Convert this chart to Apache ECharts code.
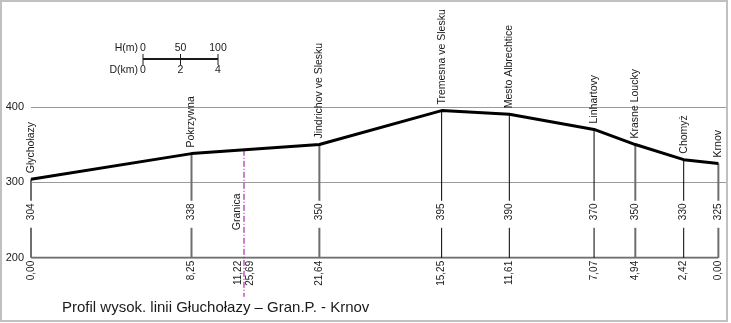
<!DOCTYPE html>
<html>
<head>
<meta charset="utf-8">
<script src="https://cdn.jsdelivr.net/npm/echarts@6/dist/echarts.min.js"></script>
<style>
html,body{margin:0;padding:0;background:#fff;}
#chart{width:731px;height:323px;}
</style>
</head>
<body>
<div id="chart"></div>
<script>
// ---- data ----
const stations = ['Głychołazy', 'Pokrzywna', 'Jindrichov ve Slesku', 'Tremesna ve Slesku', 'Mesto Albrechtice', 'Linhartovy', 'Krasne Loucky', 'Chomyż', 'Krnov'];
const elevations = [304, 338, 350, 395, 390, 370, 350, 330, 325];
const kmLabels = ['0,00', '8,25', '21,64', '15,25', '11,61', '7,07', '4,94', '2,42', '0,00'];
// position along the drawn line (km, measured with the drawing's scale bar)
const chainage = [0, 8.56, 15.38, 21.90, 25.51, 30.03, 32.23, 34.81, 36.66];

const borderName = 'Granica';
const borderChainage = 11.36;
const borderElev = 343;
const borderKmLabels = ['11,22', '25,69'];

const yTicks = [200, 300, 400];
const scaleH = [0, 50, 100];
const scaleD = [0, 2, 4];
const titleText = 'Profil wysok. linii Głuchołazy – Gran.P. - Krnov';

// ---- styles ----
const FONT = '"Liberation Sans", Arial, sans-serif';
const TXT = '#1a1a1a';
const thickStations = new Set([0, 1, 2, 6, 8]);

const chart = echarts.init(document.getElementById('chart'), null, {renderer: 'canvas'});

function vtext(x, y, text, align, size, color) {
  return {
    type: 'text', x: x, y: y, rotation: Math.PI / 2,
    style: {text: text, align: align, verticalAlign: 'middle', fill: color || TXT,
            font: size + 'px ' + FONT}
  };
}

function renderStation(params, api) {
  const i = api.value(2);
  const top = api.coord([api.value(0), api.value(1)]);
  const base = api.coord([api.value(0), yTicks[0]]);
  const x = top[0];
  const thick = thickStations.has(i);
  const ls = {stroke: thick ? '#6e6e6e' : '#000', lineWidth: thick ? 2 : 1};
  return {
    type: 'group',
    children: [
      {type: 'line', shape: {x1: x, y1: top[1], x2: x, y2: base[1] - 57}, style: ls},
      {type: 'line', shape: {x1: x, y1: base[1] - 30, x2: x, y2: base[1]}, style: ls},
      vtext(x, top[1] - 6, stations[i], 'left', 10.5),
      vtext(x, base[1] - 46, String(elevations[i]), 'center', 10),
      vtext(x, base[1] + 3, kmLabels[i], 'right', 10)
    ]
  };
}

function renderBorder(params, api) {
  const top = api.coord([api.value(0), api.value(1)]);
  const base = api.coord([api.value(0), yTicks[0]]);
  const x = top[0];
  return {
    type: 'group',
    children: [
      {type: 'line', shape: {x1: x, y1: top[1], x2: x, y2: base[1] + 39},
       style: {stroke: '#990099', lineWidth: 1, lineDash: [6, 2, 1, 2]}},
      vtext(x - 7, base[1] - 46, borderName, 'center', 10.5),
      vtext(x - 6, base[1] + 3, borderKmLabels[0], 'right', 10),
      vtext(x + 6, base[1] + 3, borderKmLabels[1], 'right', 10)
    ]
  };
}

function renderScale(params, api) {
  const sz = api.size([scaleD[scaleD.length - 1] - scaleD[0], scaleH[scaleH.length - 1] - scaleH[0]], [0, 300]);
  const w = sz[0];
  const x0 = 143, y0 = 59;
  const ch = [
    {type: 'line', shape: {x1: x0, y1: y0, x2: x0 + w, y2: y0}, style: {stroke: '#1a1a1a', lineWidth: 2}},
    {type: 'text', x: x0 - 5, y: y0 - 11, style: {text: 'H(m)', align: 'right', verticalAlign: 'middle', fill: TXT, font: '10.5px ' + FONT}},
    {type: 'text', x: x0 - 5, y: y0 + 11, style: {text: 'D(km)', align: 'right', verticalAlign: 'middle', fill: TXT, font: '10.5px ' + FONT}}
  ];
  scaleD.forEach(function (d, k) {
    const tx = x0 + w * (d - scaleD[0]) / (scaleD[scaleD.length - 1] - scaleD[0]);
    ch.push({type: 'line', shape: {x1: tx, y1: y0 - 5, x2: tx, y2: y0 + 6}, style: {stroke: '#1a1a1a', lineWidth: 1}});
    ch.push({type: 'text', x: tx, y: y0 - 11, style: {text: String(scaleH[k]), align: 'center', verticalAlign: 'middle', fill: TXT, font: '10.5px ' + FONT}});
    ch.push({type: 'text', x: tx, y: y0 + 11, style: {text: String(d), align: 'center', verticalAlign: 'middle', fill: TXT, font: '10.5px ' + FONT}});
  });
  return {type: 'group', children: ch};
}

const option = {
  animation: false,
  backgroundColor: '#fff',
  title: {
    text: titleText, left: 62, top: 300, padding: 0,
    textStyle: {fontSize: 15, fontWeight: 'normal', color: TXT, fontFamily: FONT}
  },
  graphic: [{
    type: 'rect', shape: {x: 1, y: 1, width: 726, height: 320},
    style: {fill: 'none', stroke: '#c0c0c0', lineWidth: 2}, z: 100
  }],
  grid: {left: 31, right: 4, top: 106.8, bottom: 65.2, containLabel: false},
  xAxis: {
    type: 'value', min: 0, max: 37.12,
    axisLine: {show: false}, axisTick: {show: false}, axisLabel: {show: false}, splitLine: {show: false}
  },
  yAxis: {
    type: 'value', min: yTicks[0], max: yTicks[yTicks.length - 1], interval: yTicks[1] - yTicks[0],
    axisLine: {show: false}, axisTick: {show: false},
    axisLabel: {margin: 7, fontSize: 11, color: TXT, fontFamily: FONT},
    splitLine: {show: true, showMinLine: false, lineStyle: {color: '#9a9a9a', width: 1}}
  },
  series: [
    {
      type: 'line', name: 'baseline', silent: true, symbol: 'none', z: 1,
      data: [[chainage[0], yTicks[0]], [chainage[chainage.length - 1], yTicks[0]]],
      lineStyle: {color: '#6e6e6e', width: 2}
    },
    {
      type: 'custom', name: 'stations', z: 2,
      data: chainage.map(function (c, i) { return [c, elevations[i], i]; }),
      encode: {x: 0, y: 1},
      renderItem: renderStation
    },
    {
      type: 'custom', name: 'border', z: 2,
      data: [[borderChainage, borderElev]],
      encode: {x: 0, y: 1},
      renderItem: renderBorder
    },
    {
      type: 'custom', name: 'scale', z: 2,
      data: [[0, 300]],
      encode: {x: 0, y: 1},
      renderItem: renderScale
    },
    {
      type: 'line', name: 'profile', symbol: 'none', z: 5,
      data: chainage.map(function (c, i) { return [c, elevations[i]]; }),
      lineStyle: {color: '#000', width: 3}
    }
  ]
};
chart.setOption(option);
</script>
</body>
</html>
